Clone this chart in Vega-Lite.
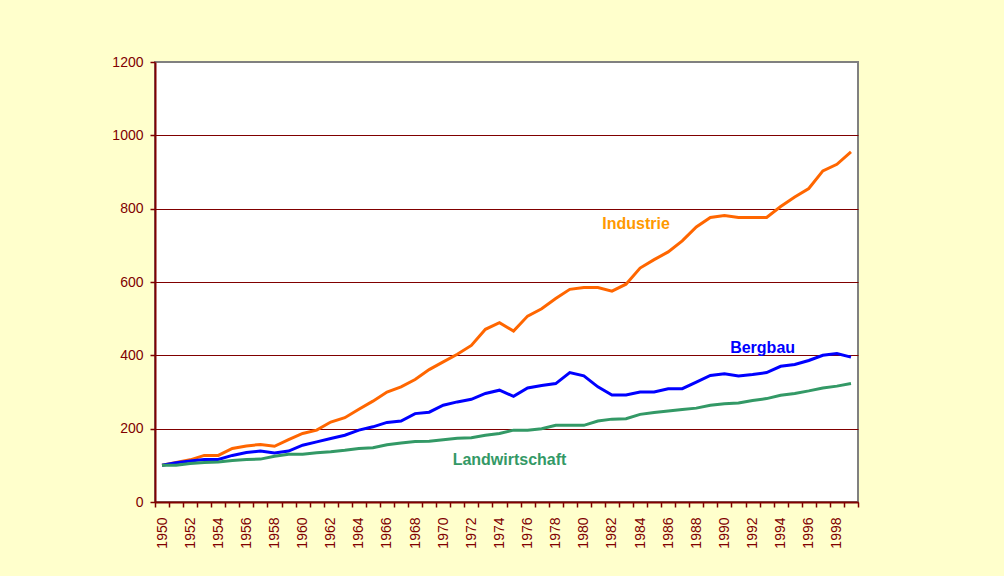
{
  "$schema": "https://vega.github.io/schema/vega-lite/v6.json",
  "autosize": {"type": "none"},
  "padding": {"left": 155, "top": 62, "right": 146, "bottom": 74},
  "width": 703,
  "height": 440,
  "background": "#FFFFCC",
  "config": {
    "view": {"stroke": "#808080", "strokeWidth": 2, "fill": "#FFFFFF"},
    "font": "Liberation Sans"
  },
  "datasets": {
    "series": [
      {"year": 1950, "series": "Industrie", "value": 100},
      {"year": 1951, "series": "Industrie", "value": 108},
      {"year": 1952, "series": "Industrie", "value": 115},
      {"year": 1953, "series": "Industrie", "value": 127},
      {"year": 1954, "series": "Industrie", "value": 127},
      {"year": 1955, "series": "Industrie", "value": 146},
      {"year": 1956, "series": "Industrie", "value": 153},
      {"year": 1957, "series": "Industrie", "value": 157},
      {"year": 1958, "series": "Industrie", "value": 152},
      {"year": 1959, "series": "Industrie", "value": 170},
      {"year": 1960, "series": "Industrie", "value": 187},
      {"year": 1961, "series": "Industrie", "value": 196},
      {"year": 1962, "series": "Industrie", "value": 218},
      {"year": 1963, "series": "Industrie", "value": 230},
      {"year": 1964, "series": "Industrie", "value": 253},
      {"year": 1965, "series": "Industrie", "value": 275},
      {"year": 1966, "series": "Industrie", "value": 300},
      {"year": 1967, "series": "Industrie", "value": 314},
      {"year": 1968, "series": "Industrie", "value": 334},
      {"year": 1969, "series": "Industrie", "value": 361},
      {"year": 1970, "series": "Industrie", "value": 382},
      {"year": 1971, "series": "Industrie", "value": 403},
      {"year": 1972, "series": "Industrie", "value": 427},
      {"year": 1973, "series": "Industrie", "value": 471},
      {"year": 1974, "series": "Industrie", "value": 489},
      {"year": 1975, "series": "Industrie", "value": 466},
      {"year": 1976, "series": "Industrie", "value": 507},
      {"year": 1977, "series": "Industrie", "value": 527},
      {"year": 1978, "series": "Industrie", "value": 555},
      {"year": 1979, "series": "Industrie", "value": 580},
      {"year": 1980, "series": "Industrie", "value": 585},
      {"year": 1981, "series": "Industrie", "value": 585},
      {"year": 1982, "series": "Industrie", "value": 575},
      {"year": 1983, "series": "Industrie", "value": 594},
      {"year": 1984, "series": "Industrie", "value": 638},
      {"year": 1985, "series": "Industrie", "value": 661},
      {"year": 1986, "series": "Industrie", "value": 682},
      {"year": 1987, "series": "Industrie", "value": 712},
      {"year": 1988, "series": "Industrie", "value": 750},
      {"year": 1989, "series": "Industrie", "value": 776},
      {"year": 1990, "series": "Industrie", "value": 781},
      {"year": 1991, "series": "Industrie", "value": 776},
      {"year": 1992, "series": "Industrie", "value": 776},
      {"year": 1993, "series": "Industrie", "value": 776},
      {"year": 1994, "series": "Industrie", "value": 806},
      {"year": 1995, "series": "Industrie", "value": 832},
      {"year": 1996, "series": "Industrie", "value": 855},
      {"year": 1997, "series": "Industrie", "value": 903},
      {"year": 1998, "series": "Industrie", "value": 921},
      {"year": 1999, "series": "Industrie", "value": 955},
      {"year": 1950, "series": "Bergbau", "value": 100},
      {"year": 1951, "series": "Bergbau", "value": 107},
      {"year": 1952, "series": "Bergbau", "value": 112},
      {"year": 1953, "series": "Bergbau", "value": 116},
      {"year": 1954, "series": "Bergbau", "value": 116},
      {"year": 1955, "series": "Bergbau", "value": 127},
      {"year": 1956, "series": "Bergbau", "value": 135},
      {"year": 1957, "series": "Bergbau", "value": 139},
      {"year": 1958, "series": "Bergbau", "value": 134},
      {"year": 1959, "series": "Bergbau", "value": 139},
      {"year": 1960, "series": "Bergbau", "value": 155},
      {"year": 1961, "series": "Bergbau", "value": 164},
      {"year": 1962, "series": "Bergbau", "value": 173},
      {"year": 1963, "series": "Bergbau", "value": 182},
      {"year": 1964, "series": "Bergbau", "value": 196},
      {"year": 1965, "series": "Bergbau", "value": 205},
      {"year": 1966, "series": "Bergbau", "value": 217},
      {"year": 1967, "series": "Bergbau", "value": 221},
      {"year": 1968, "series": "Bergbau", "value": 241},
      {"year": 1969, "series": "Bergbau", "value": 245},
      {"year": 1970, "series": "Bergbau", "value": 264},
      {"year": 1971, "series": "Bergbau", "value": 273},
      {"year": 1972, "series": "Bergbau", "value": 280},
      {"year": 1973, "series": "Bergbau", "value": 296},
      {"year": 1974, "series": "Bergbau", "value": 305},
      {"year": 1975, "series": "Bergbau", "value": 288},
      {"year": 1976, "series": "Bergbau", "value": 311},
      {"year": 1977, "series": "Bergbau", "value": 318},
      {"year": 1978, "series": "Bergbau", "value": 323},
      {"year": 1979, "series": "Bergbau", "value": 353},
      {"year": 1980, "series": "Bergbau", "value": 344},
      {"year": 1981, "series": "Bergbau", "value": 314},
      {"year": 1982, "series": "Bergbau", "value": 292},
      {"year": 1983, "series": "Bergbau", "value": 292},
      {"year": 1984, "series": "Bergbau", "value": 300},
      {"year": 1985, "series": "Bergbau", "value": 300},
      {"year": 1986, "series": "Bergbau", "value": 309},
      {"year": 1987, "series": "Bergbau", "value": 309},
      {"year": 1988, "series": "Bergbau", "value": 327},
      {"year": 1989, "series": "Bergbau", "value": 345},
      {"year": 1990, "series": "Bergbau", "value": 350},
      {"year": 1991, "series": "Bergbau", "value": 344},
      {"year": 1992, "series": "Bergbau", "value": 348},
      {"year": 1993, "series": "Bergbau", "value": 353},
      {"year": 1994, "series": "Bergbau", "value": 370},
      {"year": 1995, "series": "Bergbau", "value": 375},
      {"year": 1996, "series": "Bergbau", "value": 386},
      {"year": 1997, "series": "Bergbau", "value": 400},
      {"year": 1998, "series": "Bergbau", "value": 405},
      {"year": 1999, "series": "Bergbau", "value": 395},
      {"year": 1950, "series": "Landwirtschaft", "value": 100},
      {"year": 1951, "series": "Landwirtschaft", "value": 100},
      {"year": 1952, "series": "Landwirtschaft", "value": 105},
      {"year": 1953, "series": "Landwirtschaft", "value": 108},
      {"year": 1954, "series": "Landwirtschaft", "value": 109},
      {"year": 1955, "series": "Landwirtschaft", "value": 113},
      {"year": 1956, "series": "Landwirtschaft", "value": 116},
      {"year": 1957, "series": "Landwirtschaft", "value": 117},
      {"year": 1958, "series": "Landwirtschaft", "value": 125},
      {"year": 1959, "series": "Landwirtschaft", "value": 130},
      {"year": 1960, "series": "Landwirtschaft", "value": 130},
      {"year": 1961, "series": "Landwirtschaft", "value": 134},
      {"year": 1962, "series": "Landwirtschaft", "value": 137},
      {"year": 1963, "series": "Landwirtschaft", "value": 141},
      {"year": 1964, "series": "Landwirtschaft", "value": 146},
      {"year": 1965, "series": "Landwirtschaft", "value": 148},
      {"year": 1966, "series": "Landwirtschaft", "value": 156},
      {"year": 1967, "series": "Landwirtschaft", "value": 161},
      {"year": 1968, "series": "Landwirtschaft", "value": 165},
      {"year": 1969, "series": "Landwirtschaft", "value": 166},
      {"year": 1970, "series": "Landwirtschaft", "value": 170},
      {"year": 1971, "series": "Landwirtschaft", "value": 174},
      {"year": 1972, "series": "Landwirtschaft", "value": 175},
      {"year": 1973, "series": "Landwirtschaft", "value": 182},
      {"year": 1974, "series": "Landwirtschaft", "value": 187},
      {"year": 1975, "series": "Landwirtschaft", "value": 196},
      {"year": 1976, "series": "Landwirtschaft", "value": 196},
      {"year": 1977, "series": "Landwirtschaft", "value": 200},
      {"year": 1978, "series": "Landwirtschaft", "value": 209},
      {"year": 1979, "series": "Landwirtschaft", "value": 209},
      {"year": 1980, "series": "Landwirtschaft", "value": 209},
      {"year": 1981, "series": "Landwirtschaft", "value": 221},
      {"year": 1982, "series": "Landwirtschaft", "value": 226},
      {"year": 1983, "series": "Landwirtschaft", "value": 227},
      {"year": 1984, "series": "Landwirtschaft", "value": 239},
      {"year": 1985, "series": "Landwirtschaft", "value": 244},
      {"year": 1986, "series": "Landwirtschaft", "value": 248},
      {"year": 1987, "series": "Landwirtschaft", "value": 252},
      {"year": 1988, "series": "Landwirtschaft", "value": 256},
      {"year": 1989, "series": "Landwirtschaft", "value": 264},
      {"year": 1990, "series": "Landwirtschaft", "value": 268},
      {"year": 1991, "series": "Landwirtschaft", "value": 270},
      {"year": 1992, "series": "Landwirtschaft", "value": 277},
      {"year": 1993, "series": "Landwirtschaft", "value": 282},
      {"year": 1994, "series": "Landwirtschaft", "value": 291},
      {"year": 1995, "series": "Landwirtschaft", "value": 296},
      {"year": 1996, "series": "Landwirtschaft", "value": 303},
      {"year": 1997, "series": "Landwirtschaft", "value": 311},
      {"year": 1998, "series": "Landwirtschaft", "value": 316},
      {"year": 1999, "series": "Landwirtschaft", "value": 323}
    ],
    "labels": [
      {"year": 1984, "series": "Industrie", "value": 757},
      {"year": 1993, "series": "Bergbau", "value": 419},
      {"year": 1975, "series": "Landwirtschaft", "value": 114}
    ]
  },
  "layer": [
    {
      "data": {"name": "series"},
      "mark": {"type": "line", "strokeWidth": 3, "strokeJoin": "miter"},
      "encoding": {
        "x": {
          "field": "year",
          "type": "ordinal",
          "scale": {"type": "band", "paddingInner": 0, "paddingOuter": 0},
          "axis": {
            "title": null,
            "labelAngle": -90,
            "labelAlign": "right",
            "labelBaseline": "middle",
            "labelExpr": "datum.value % 2 == 0 ? datum.label : ''",
            "labelColor": "#800000",
            "labelFontSize": 14,
            "labelFont": "Liberation Sans",
            "labelPadding": 10,
            "tickBand": "extent",
            "tickColor": "#800000",
            "tickSize": 5,
            "tickWidth": 1.5,
            "domainColor": "#800000",
            "domainWidth": 2,
            "grid": false,
            "labelOverlap": false
          }
        },
        "y": {
          "field": "value",
          "type": "quantitative",
          "scale": {"domain": [0, 1200], "nice": false},
          "axis": {
            "title": null,
            "values": [0, 200, 400, 600, 800, 1000, 1200],
            "format": "d",
            "labelColor": "#800000",
            "labelFontSize": 14,
            "labelFont": "Liberation Sans",
            "labelPadding": 7,
            "tickColor": "#800000",
            "tickSize": 5,
            "tickWidth": 1.5,
            "domainColor": "#800000",
            "domainWidth": 2,
            "grid": true,
            "gridColor": {"condition": {"test": "datum.value == 1200", "value": "#808080"}, "value": "#800000"},
            "gridWidth": 1.2
          }
        },
        "color": {
          "field": "series",
          "type": "nominal",
          "scale": {
            "domain": ["Industrie", "Bergbau", "Landwirtschaft"],
            "range": ["#FF6600", "#0000FF", "#339966"]
          },
          "legend": null
        }
      }
    },
    {
      "data": {"name": "labels"},
      "mark": {"type": "text", "fontSize": 16, "fontWeight": "bold", "font": "Liberation Sans", "align": "center", "baseline": "middle", "dx": -4},
      "encoding": {
        "x": {"field": "year", "type": "ordinal"},
        "y": {"field": "value", "type": "quantitative"},
        "text": {"field": "series"},
        "color": {
          "field": "series",
          "type": "nominal",
          "scale": {
            "domain": ["Industrie", "Bergbau", "Landwirtschaft"],
            "range": ["#FF9900", "#0000FF", "#339966"]
          },
          "legend": null
        }
      }
    }
  ],
  "resolve": {"scale": {"color": "independent"}}
}
